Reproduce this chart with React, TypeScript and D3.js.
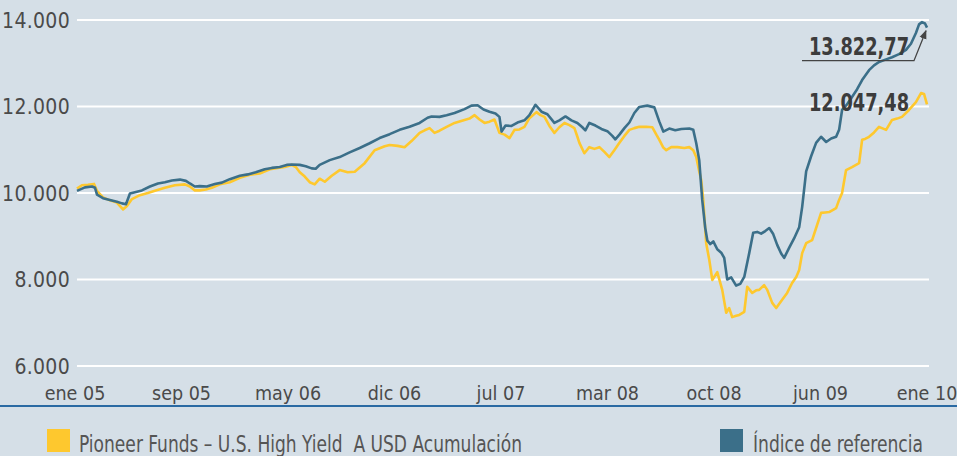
import React from "react";
import * as d3 from "d3";

// months since ene 05, value
const blueT = [0.14,0.70,1.20,1.41,1.55,1.97,2.46,2.95,3.31,3.59,3.87,4.22,4.71,5.28,5.84,6.33,6.82,7.39,7.81,8.09,8.44,8.79,9.28,9.85,10.34,10.90,11.61,12.17,12.73,13.36,13.86,14.42,14.91,15.26,15.83,16.25,16.67,16.95,17.23,17.94,18.64,19.34,20.05,20.75,21.45,22.16,22.86,23.56,24.27,24.83,25.11,25.67,26.17,26.73,27.43,27.92,28.35,28.77,29.19,29.61,29.89,30.04,30.32,30.74,31.16,31.65,32.00,32.43,32.85,33.27,33.76,34.11,34.54,34.96,35.38,35.73,35.94,36.22,36.65,37.07,37.49,37.84,38.05,38.34,38.69,39.04,39.39,39.74,40.30,40.80,41.15,41.43,41.85,42.27,42.70,43.26,43.54,43.75,43.96,44.17,44.38,44.53,44.74,44.95,45.23,45.51,45.72,45.93,46.21,46.56,46.85,47.13,47.48,47.76,48.04,48.32,48.61,48.89,49.17,49.45,49.73,49.94,50.29,50.64,51.00,51.21,51.49,51.84,52.19,52.54,52.90,53.25,53.60,53.81,54.02,54.37,54.72,55.08,55.43,55.92,56.27,56.62,57.12,57.54,58.03,58.52,58.87,59.22,59.44,59.65,59.86,60.0];
const blueV = [10050,10130,10150,10120,9960,9880,9840,9800,9760,9740,9990,10020,10060,10150,10220,10250,10290,10310,10280,10220,10150,10160,10150,10210,10240,10320,10400,10430,10480,10550,10580,10600,10650,10660,10650,10620,10570,10560,10650,10760,10830,10940,11040,11150,11270,11360,11460,11530,11620,11740,11770,11760,11800,11850,11940,12020,12030,11930,11880,11840,11760,11420,11560,11550,11630,11680,11800,12040,11880,11820,11620,11680,11770,11680,11620,11520,11450,11620,11560,11480,11430,11320,11240,11350,11500,11630,11850,11990,12020,11980,11650,11420,11490,11450,11480,11490,11460,11150,10760,9840,9200,8900,8820,8880,8700,8620,8500,8000,8050,7860,7900,8060,8610,9080,9100,9060,9120,9190,9050,8800,8600,8500,8730,8950,9210,9680,10500,10850,11160,11300,11180,11260,11300,11460,11920,12050,12220,12400,12610,12840,12950,13030,13090,13140,13210,13310,13450,13700,13900,13950,13920,13822.77];

const fundT = [0.14,0.49,0.91,1.34,1.55,1.97,2.46,2.95,3.38,3.66,4.01,4.57,5.13,5.63,6.33,7.03,7.74,8.09,8.44,8.79,9.21,9.64,10.20,10.90,11.61,12.31,13.01,13.72,14.28,14.77,15.26,15.55,15.83,16.18,16.53,16.88,17.23,17.59,18.08,18.64,19.20,19.70,20.40,21.10,21.81,22.16,22.72,23.21,23.70,24.27,24.62,24.97,25.32,25.67,26.17,26.73,27.43,27.78,28.14,28.49,28.84,29.19,29.54,29.89,30.25,30.60,30.95,31.30,31.65,32.00,32.50,32.78,33.06,33.41,33.76,34.11,34.47,34.82,35.17,35.38,35.52,35.87,36.22,36.58,36.93,37.28,37.63,37.98,38.34,38.69,39.04,39.39,39.74,40.23,40.66,40.94,41.15,41.43,41.64,41.99,42.42,42.91,43.26,43.54,43.75,43.96,44.10,44.24,44.45,44.67,44.88,45.23,45.58,45.86,46.07,46.28,46.56,46.78,47.13,47.34,47.69,47.97,48.18,48.53,48.75,49.10,49.38,49.80,50.15,50.50,50.79,51.00,51.21,51.49,51.91,52.26,52.54,52.83,53.11,53.60,53.81,54.02,54.30,54.72,55.22,55.43,55.64,55.92,56.27,56.62,57.12,57.54,57.89,58.24,58.73,59.22,59.58,59.79,60.0];
const fundV = [10100,10180,10190,10210,10050,9900,9830,9780,9620,9700,9860,9950,10000,10050,10120,10180,10200,10150,10060,10060,10080,10120,10200,10250,10350,10420,10450,10550,10580,10600,10650,10600,10480,10380,10250,10200,10330,10260,10400,10530,10480,10490,10690,10990,11080,11110,11090,11060,11200,11390,11450,11500,11390,11440,11530,11620,11690,11720,11800,11700,11620,11650,11700,11390,11350,11270,11460,11470,11530,11730,11870,11800,11760,11550,11390,11520,11620,11570,11500,11300,11160,10920,11060,11020,11060,10950,10830,10990,11160,11320,11460,11500,11530,11530,11520,11350,11230,11050,10990,11060,11060,11040,11060,10990,10830,10500,10300,9840,8840,8450,7990,8170,7760,7230,7340,7130,7160,7180,7250,7830,7690,7750,7760,7870,7760,7460,7340,7530,7690,7920,8060,8220,8610,8840,8910,9260,9540,9550,9560,9650,9840,10000,10530,10600,10690,11230,11250,11300,11400,11530,11460,11690,11720,11760,11920,12100,12310,12290,12047.48];

const xLabels = ["ene 05","sep 05","may 06","dic 06","jul 07","mar 08","oct 08","jun 09","ene 10"];
const yTicks = [6000, 8000, 10000, 12000, 14000];
const legendLabels = ["Pioneer Funds \u2013 U.S. High Yield\u00a0 A USD Acumulaci\u00f3n", "\u00cdndice de referencia"];

const W = 957, H = 456;
const BG = "#d5dfe7";
const YELLOW = "#fec82e";
const BLUE = "#3b6f89";
const FONT = "'Liberation Sans Narrow', 'Arial Narrow', 'DejaVu Sans Condensed', sans-serif";
const SX = 0.83;

const loc = d3.formatLocale({ decimal: ",", thousands: ".", grouping: [3], currency: ["", ""] });
const fmtInt = loc.format(",");
const fmtDec = loc.format(",.2f");

export default function App() {
  const x = d3.scaleLinear().domain([0, 60]).range([75, 927]);
  const y = d3.scaleLinear().domain([6000, 14000]).range([366, 20]);
  const line = d3.line<[number, number]>().x(d => x(d[0])).y(d => y(d[1]));
  const blue = blueT.map((t, i) => [t, blueV[i]] as [number, number]);
  const fund = fundT.map((t, i) => [t, fundV[i]] as [number, number]);
  const bEnd = blue[blue.length - 1];
  const fEnd = fund[fund.length - 1];
  const tipX = x(bEnd[0]), tipY = y(bEnd[1]);
  return (
    <svg width={W} height={H} style={{ position: "absolute", left: 0, top: 0, background: BG, fontFamily: FONT }}>
      <defs>
        <marker id="arr" viewBox="0 0 10 10" refX="9" refY="5" markerWidth="7" markerHeight="7" orient="auto">
          <path d="M0,1 L10,5 L0,9 z" fill="#444" />
        </marker>
      </defs>
      <rect width={W} height={H} fill={BG} />
      {yTicks.map(v => (
        <g key={v}>
          <line x1={x(0) + 2} x2={x(60) + 2} y1={y(v)} y2={y(v)} stroke="#fff" strokeWidth={2} />
          <text x={70} y={y(v)} dy="0.36em" textAnchor="end" fontSize={21} fill="#4a4a4a" letterSpacing={0.3}>{fmtInt(v)}</text>
        </g>
      ))}
      {xLabels.map((l, i) => (
        <text key={l} x={x(i * 7.5)} y={400} textAnchor="middle" fontSize={19.5} fill="#4a4a4a">{l}</text>
      ))}
      <path d={line(fund) || ""} fill="none" stroke={YELLOW} strokeWidth={2.6} strokeLinejoin="round" />
      <path d={line(blue) || ""} fill="none" stroke={BLUE} strokeWidth={2.6} strokeLinejoin="round" />
      <text x={tipX - 118} y={tipY + 27} fontSize={25} fontWeight="bold" fill="#3c3c3c" textLength={100} lengthAdjust="spacingAndGlyphs">{fmtDec(bEnd[1])}</text>
      <path d={`M${tipX - 125},${tipY + 33} L${tipX - 13},${tipY + 33} L${tipX - 1},${tipY + 3}`} fill="none" stroke="#444" strokeWidth={1.3} markerEnd="url(#arr)" />
      <text x={x(fEnd[0]) - 118} y={y(fEnd[1]) + 7} fontSize={25} fontWeight="bold" fill="#3c3c3c" textLength={100} lengthAdjust="spacingAndGlyphs">{fmtDec(fEnd[1])}</text>
      <line x1={0} x2={W} y1={406} y2={406} stroke="#2a6aa3" strokeWidth={2} />
      <rect x={47} y={429} width={23} height={23} fill={YELLOW} />
      <g transform={`translate(79,452) scale(${SX},1)`}>
        <text x={0} y={0} fontSize={23} fill="#555" textLength={443 / SX} lengthAdjust="spacingAndGlyphs">{legendLabels[0]}</text>
      </g>
      <rect x={720} y={429} width={23} height={23} fill={BLUE} />
      <g transform={`translate(753,452) scale(${SX},1)`}>
        <text x={0} y={0} fontSize={23} fill="#555" textLength={170 / SX} lengthAdjust="spacingAndGlyphs">{legendLabels[1]}</text>
      </g>
    </svg>
  );
}
